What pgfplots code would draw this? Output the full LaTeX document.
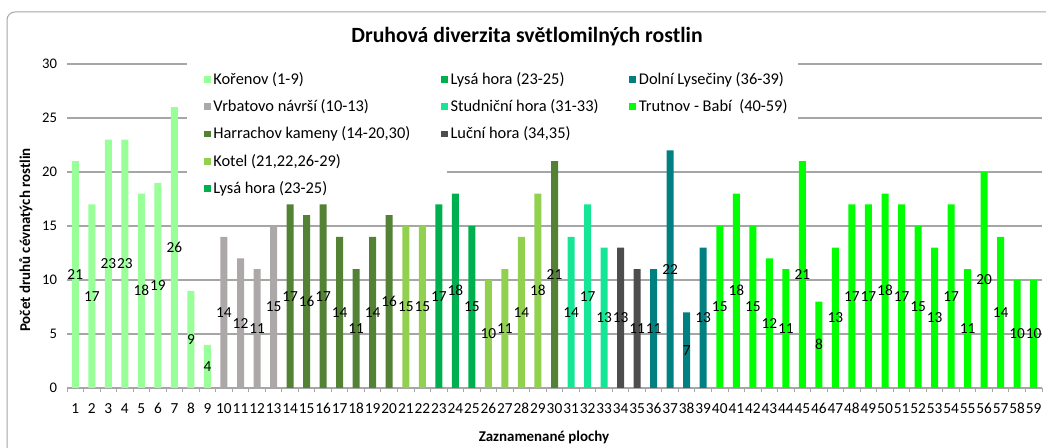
\documentclass[border=0pt]{standalone}
\usepackage{pgfplots}
\usepackage{pgfplotstable}
\pgfplotsset{compat=1.18}
\usepackage{fontspec}
\setmainfont{Carlito}
\definecolor{ckor}{RGB}{153,255,153}
\definecolor{cvrb}{RGB}{172,168,168}
\definecolor{char}{RGB}{84,130,53}
\definecolor{ckot}{RGB}{146,208,80}
\definecolor{clys}{RGB}{0,176,80}
\definecolor{cstu}{RGB}{20,230,150}
\definecolor{cluc}{RGB}{77,77,77}
\definecolor{cdol}{RGB}{0,128,128}
\definecolor{ctru}{RGB}{0,255,0}
\definecolor{cgrid}{RGB}{166,166,166}

\pgfplotstableread{
x v
1 21
2 17
3 23
4 23
5 18
6 19
7 26
8 9
9 4
}\tkor
\pgfplotstableread{
x v
10 14
11 12
12 11
13 15
}\tvrb
\pgfplotstableread{
x v
14 17
15 16
16 17
17 14
18 11
19 14
20 16
30 21
}\thar
\pgfplotstableread{
x v
21 15
22 15
26 10
27 11
28 14
29 18
}\tkot
\pgfplotstableread{
x v
23 17
24 18
25 15
}\tlys
\pgfplotstableread{
x v
31 14
32 17
33 13
}\tstu
\pgfplotstableread{
x v
34 13
35 11
}\tluc
\pgfplotstableread{
x v
36 11
37 22
38 7
39 13
}\tdol
\pgfplotstableread{
x v
40 15
41 18
42 15
43 12
44 11
45 21
46 8
47 13
48 17
49 17
50 18
51 17
52 15
53 13
54 17
55 11
56 20
57 14
58 10
59 10
}\ttru

\newcommand{\grp}[2]{%
  \addplot[ybar, bar width=5.25pt, bar shift=0pt, fill=#1, draw=none, forget plot] table[x=x,y=v]{#2};
  \addplot[lbl] table[x=x, y expr=\thisrow{v}/2, meta=v]{#2};
}

\begin{document}
\begin{tikzpicture}
\useasboundingbox (0,0) rectangle (784.5pt,336pt);
\fill[white] (0,0) rectangle (784.5pt,336pt);
\draw[cgrid, line width=0.75pt, rounded corners=6pt] (5.25pt,-10pt) -- (5.25pt,327pt) -- (800pt,327pt);
\begin{axis}[
  at={(50.25pt,45pt)}, anchor=south west, scale only axis,
  width=731.25pt, height=243pt,
  xmin=0.5, xmax=59.5, ymin=0, ymax=30,
  clip=false,
  axis lines*=left,
  x axis line style={cgrid, line width=0.9pt},
  y axis line style={draw=none},
  ytick={0,5,...,30},
  ymajorgrids,
  grid style={cgrid, line width=0.9pt},
  xtick={1,...,59},
  minor xtick={0.5,1.5,...,59.5},
  major tick length=0pt,
  minor tick length=3pt,
  tick align=outside,
  minor tick style={cgrid, line width=0.75pt},
  /pgf/number format/assume math mode=true,
  x tick label style={font=\fontsize{11.5}{13}\selectfont, yshift=-8pt},
  y tick label style={font=\fontsize{11}{13}\selectfont, xshift=-4pt},
  lbl/.style={only marks, mark=none, forget plot, point meta=explicit,
    nodes near coords,
    every node near coord/.append style={anchor=center, text=black, inner sep=0pt,
      font=\fontsize{11.5}{13}\selectfont}},
  legend columns=3,
  legend cell align=left,
  legend style={at={(axis cs:8.76,29.5)}, anchor=north west, draw=none, fill=none,
    inner sep=0pt, font=\fontsize{12.3}{14}\selectfont,
    /tikz/every even column/.append style={column sep=21pt},
    row sep=6pt},
  legend image code/.code={\fill[#1, draw=none] (0pt,-2.6pt) rectangle (5.2pt,2.6pt);},
]
\fill[white] (axis cs:7.76,31) rectangle (axis cs:44.74,22.3);
\fill[white] (axis cs:7.76,22.4) rectangle (axis cs:23.5,17.6);

\grp{ckor}{\tkor}
\grp{cvrb}{\tvrb}
\grp{char}{\thar}
\grp{ckot}{\tkot}
\grp{clys}{\tlys}
\grp{cstu}{\tstu}
\grp{cluc}{\tluc}
\grp{cdol}{\tdol}
\grp{ctru}{\ttru}

\addlegendimage{fill=ckor}\addlegendentry{Kořenov (1-9)}
\addlegendimage{fill=clys}\addlegendentry{Lysá hora (23-25)}
\addlegendimage{fill=cdol}\addlegendentry{Dolní Lysečiny (36-39)}
\addlegendimage{fill=cvrb}\addlegendentry{Vrbatovo návrší (10-13)}
\addlegendimage{fill=cstu}\addlegendentry{Studniční hora (31-33)}
\addlegendimage{fill=ctru}\addlegendentry{Trutnov - Babí\ \ (40-59)}
\addlegendimage{fill=char}\addlegendentry{Harrachov kameny (14-20,30)}
\addlegendimage{fill=cluc}\addlegendentry{Luční hora (34,35)}
\addlegendimage{empty legend}\addlegendentry{}
\addlegendimage{fill=ckot}\addlegendentry{Kotel (21,22,26-29)}
\addlegendimage{empty legend}\addlegendentry{}
\addlegendimage{empty legend}\addlegendentry{}
\addlegendimage{fill=clys}\addlegendentry{Lysá hora (23-25)}
\end{axis}
\node[font=\bfseries\fontsize{16.3}{19}\selectfont] at (395.25pt,308.25pt) {Druhová diverzita světlomilných rostlin};
\node[font=\bfseries\fontsize{11.2}{13}\selectfont] at (408pt,8.25pt) {Zaznamenané plochy};
\node[font=\bfseries\fontsize{11.2}{13}\selectfont, rotate=90] at (19.5pt,156pt) {Počet druhů cévnatých rostlin};
\end{tikzpicture}
\end{document}
